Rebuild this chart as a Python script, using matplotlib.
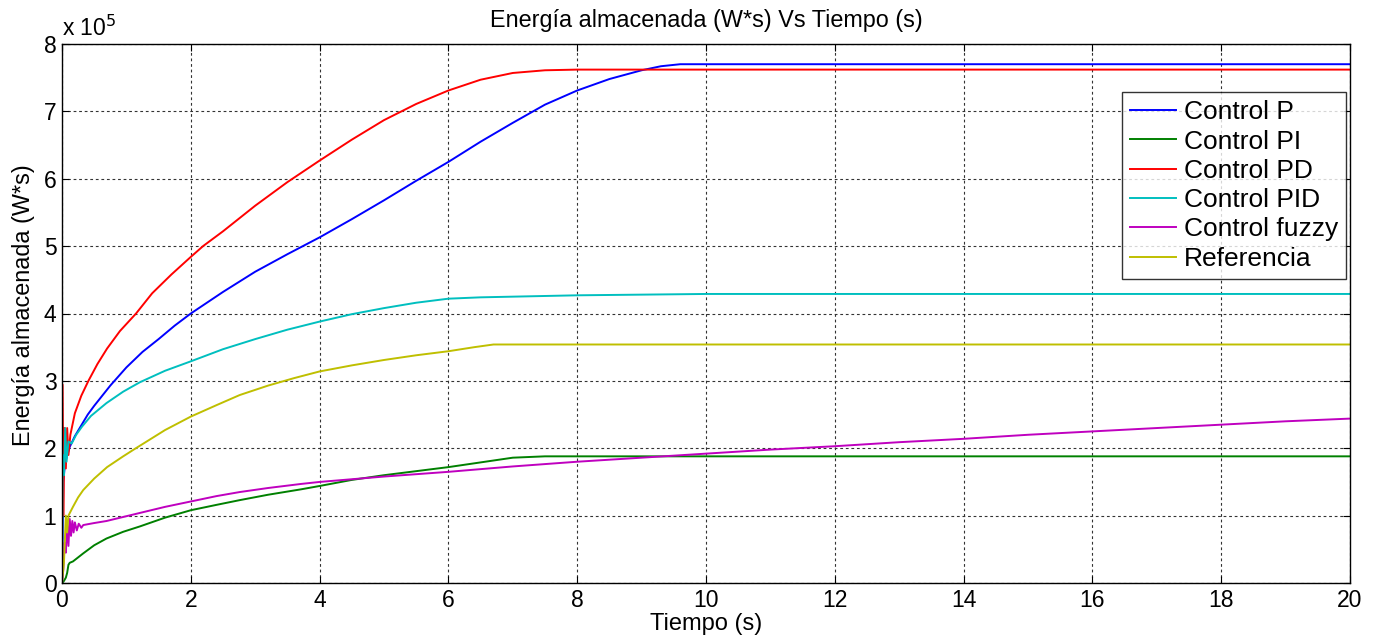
import numpy as np
import matplotlib
matplotlib.use('Agg')
import matplotlib.pyplot as plt

plt.rcParams['font.family'] = ['Liberation Sans', 'DejaVu Sans']

# valores en unidades de 1e5 W*s
t_p = [0, 0.02, 0.05, 0.12, 0.2, 0.3, 0.4, 0.5, 0.6, 0.75, 1.0, 1.25, 1.5, 1.75, 2, 2.5, 3, 3.5, 4,
       4.5, 5, 5.5, 6, 6.5, 7, 7.5, 8, 8.5, 9, 9.3, 9.6, 20]
e_p = [0, 1.5, 1.8, 2.02, 2.18, 2.34, 2.5, 2.63, 2.75, 2.93, 3.2, 3.43, 3.62, 3.82, 4.0, 4.32, 4.62,
       4.88, 5.13, 5.4, 5.68, 5.97, 6.25, 6.55, 6.83, 7.1, 7.31, 7.48, 7.61, 7.67, 7.7, 7.7]

t_pi = [0, 0.03, 0.06, 0.08, 0.1, 0.12, 0.17, 0.25, 0.33, 0.5, 0.69, 0.95, 1.21, 1.6, 2, 2.4, 2.76,
        3.2, 3.71, 4, 4.5, 5, 5.5, 6, 6.5, 7, 7.5, 20]
e_pi = [0, 0.03, 0.08, 0.15, 0.27, 0.3, 0.32, 0.38, 0.44, 0.56, 0.66, 0.76, 0.84, 0.97, 1.08, 1.16, 1.23,
        1.31, 1.39, 1.44, 1.53, 1.6, 1.66, 1.72, 1.79, 1.86, 1.88, 1.88]

t_pd = [0, 0.005, 0.02, 0.04, 0.06, 0.08, 0.1, 0.13, 0.2, 0.3, 0.41, 0.55, 0.7, 0.9, 1.15, 1.4, 1.7,
        2, 2.19, 2.5, 3, 3.5, 4, 4.5, 5, 5.5, 6, 6.5, 7, 7.5, 8, 20]
e_pd = [0, 2.95, 1.0, 2.3, 1.7, 2.3, 1.9, 2.2, 2.52, 2.78, 3.0, 3.25, 3.48, 3.74, 4.0, 4.3, 4.58,
        4.84, 5.0, 5.22, 5.6, 5.95, 6.27, 6.58, 6.87, 7.11, 7.31, 7.47, 7.57, 7.61, 7.62, 7.62]

t_pid = [0, 0.01, 0.03, 0.05, 0.07, 0.1, 0.15, 0.22, 0.31, 0.45, 0.69, 0.95, 1.21, 1.6, 2, 2.5, 3,
         3.5, 4, 4.5, 5, 5.5, 6, 6.5, 7, 8, 10, 20]
e_pid = [0, 1.9, 1.6, 2.3, 1.8, 2.1, 2.07, 2.2, 2.32, 2.48, 2.67, 2.84, 2.98, 3.15, 3.29, 3.47, 3.62,
         3.76, 3.88, 3.99, 4.08, 4.16, 4.22, 4.24, 4.25, 4.27, 4.29, 4.29]

t_fz = [0, 0.02, 0.04, 0.06, 0.08, 0.1, 0.12, 0.14, 0.16, 0.18, 0.2, 0.23, 0.26, 0.3, 0.33, 0.5, 0.69,
        0.95, 1.21, 1.6, 2, 2.4, 2.76, 3.2, 3.71, 4, 5, 6, 7, 8, 9, 10, 11, 12, 13, 14, 15, 16, 17,
        18, 19, 20]
e_fz = [0, 0.2, 0.6, 0.45, 0.9, 0.55, 0.95, 0.7, 0.92, 0.75, 0.9, 0.78, 0.88, 0.82, 0.86, 0.89, 0.92,
        0.98, 1.04, 1.13, 1.21, 1.29, 1.35, 1.41, 1.47, 1.5, 1.58, 1.65, 1.73, 1.8, 1.86, 1.92, 1.98,
        2.03, 2.09, 2.14, 2.2, 2.25, 2.3, 2.35, 2.4, 2.44]

t_ref = [0, 0.03, 0.06, 0.08, 0.1, 0.17, 0.25, 0.33, 0.5, 0.7, 0.95, 1.13, 1.6, 2, 2.4, 2.76, 3.2,
         3.6, 4, 4.5, 5, 5.5, 6, 6.4, 6.7, 20]
e_ref = [0, 0.3, 1.0, 0.75, 1.0, 1.13, 1.27, 1.38, 1.55, 1.72, 1.88, 1.99, 2.27, 2.47, 2.64, 2.79, 2.93,
         3.04, 3.14, 3.23, 3.31, 3.38, 3.44, 3.5, 3.54, 3.54]

nombres = ['Control P', 'Control PI', 'Control PD', 'Control PID', 'Control fuzzy', 'Referencia']
colores = ['#0000ff', '#008000', '#ff0000', '#00bfbf', '#bf00bf', '#bfbf00']

fig = plt.figure(figsize=(13.81, 6.4), dpi=100)
ax = fig.add_axes([62/1381, 1 - 583/640, 1288/1381, 539/640])

series = [(t_p, e_p), (t_pi, e_pi), (t_pd, e_pd), (t_pid, e_pid), (t_fz, e_fz), (t_ref, e_ref)]
for (t, e), nom, c in zip(series, nombres, colores):
    ax.plot(t, e, color=c, lw=1.4, label=nom)

ax.set_xlim(0, 20)
ax.set_ylim(0, 8)
ax.set_xticks(np.arange(0, 21, 2))
ax.set_yticks(np.arange(0, 9, 1))
ax.grid(True, color='#333333', linestyle=(0, (2.5, 2.5)), linewidth=0.8)
ax.tick_params(direction='in', top=True, right=True, labelsize=16.5, length=5, pad=4)
for s in ax.spines.values():
    s.set_linewidth(1.0)

ax.text(0.0, 1.005, r'x 10$^{5}$', transform=ax.transAxes, fontsize=16.5, va='bottom', ha='left')
ax.set_title('Energía almacenada (W*s) Vs Tiempo (s)', fontsize=16.8, pad=12)
ax.set_xlabel('Tiempo (s)', fontsize=17, labelpad=1)
ax.set_ylabel('Energía almacenada (W*s)', fontsize=16.8, labelpad=4)
ax.yaxis.set_label_coords(-0.021, 0.515)

leg = ax.legend(loc='upper right', bbox_to_anchor=(0.999, 0.915), fontsize=19, frameon=True,
                fancybox=False, edgecolor='black', handlelength=1.75, borderpad=0.3,
                labelspacing=0.2, handletextpad=0.3, borderaxespad=0.1)
leg.get_frame().set_linewidth(1.0)

fig.savefig('out.png', dpi=100)
